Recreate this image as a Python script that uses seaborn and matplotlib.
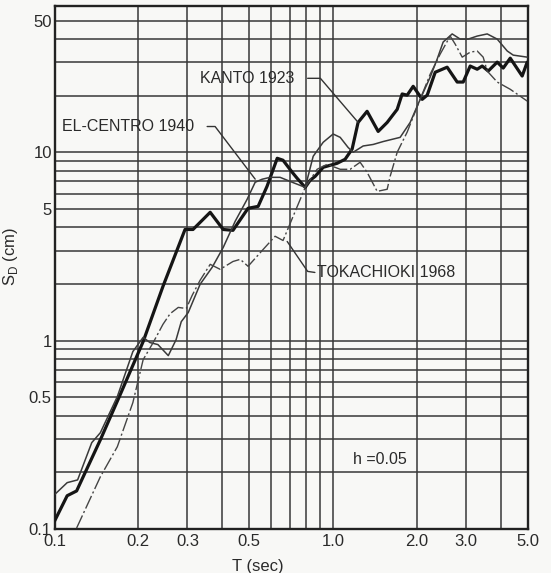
import numpy as np
import pandas as pd
import matplotlib
matplotlib.use("Agg")
import matplotlib.pyplot as plt
from matplotlib.ticker import NullFormatter
import seaborn as sns

# Displacement response spectra, h = 0.05
kanto_T = [0.100, 0.111, 0.120, 0.146, 0.172, 0.208, 0.245, 0.294, 0.314, 0.362,
           0.403, 0.437, 0.495, 0.538, 0.579, 0.630, 0.661, 0.713, 0.743, 0.794,
           0.827, 0.862, 0.921, 1.034, 1.104, 1.170, 1.229, 1.324, 1.451, 1.563,
           1.698, 1.769, 1.844, 1.938, 2.088, 2.176, 2.325, 2.566, 2.788, 2.930,
           3.104, 3.289, 3.428, 3.603, 3.881, 4.079, 4.322, 4.771, 4.973]
kanto_sd = [0.110, 0.150, 0.159, 0.297, 0.516, 0.988, 1.94, 3.89, 3.89, 4.80,
            3.89, 3.85, 5.04, 5.16, 6.59, 9.29, 9.07, 7.83, 7.27, 6.51,
            7.10, 7.45, 8.32, 8.74, 9.18, 10.4, 14.4, 16.5, 12.9, 14.4,
            16.9, 20.4, 20.1, 22.4, 19.1, 20.1, 26.6, 28.3, 23.6, 23.6,
            28.7, 27.6, 28.7, 27.0, 30.1, 28.0, 31.6, 25.4, 30.1]

elcentro_T = [0.100, 0.111, 0.121, 0.136, 0.146, 0.168, 0.191, 0.208, 0.220, 0.235,
              0.256, 0.273, 0.285, 0.302, 0.333, 0.368, 0.403, 0.445, 0.491, 0.525,
              0.556, 0.594, 0.645, 0.713, 0.794, 0.848, 0.921, 1.000, 1.060, 1.132,
              1.180, 1.282, 1.392, 1.512, 1.740, 1.890, 2.053, 2.231, 2.362, 2.483,
              2.675, 2.858, 3.053, 3.289, 3.573, 3.881, 4.216, 4.430, 4.973]
elcentro_sd = [0.152, 0.176, 0.182, 0.287, 0.324, 0.504, 0.874, 1.04, 0.976, 0.952,
               0.832, 1.01, 1.26, 1.41, 1.99, 2.45, 3.12, 4.30, 5.62, 6.93,
               7.19, 7.36, 7.36, 6.93, 6.51, 9.52, 11.3, 12.5, 12.0, 10.6,
               10.0, 10.8, 11.0, 11.4, 12.0, 14.4, 19.1, 25.1, 31.2, 38.5,
               42.5, 39.9, 39.9, 41.4, 42.5, 39.9, 34.5, 32.8, 32.0]

tokachi_T = [0.120, 0.132, 0.146, 0.168, 0.191, 0.208, 0.226, 0.245, 0.260, 0.278,
             0.297, 0.312, 0.333, 0.362, 0.393, 0.437, 0.464, 0.495, 0.561, 0.619,
             0.661, 0.794, 0.876, 0.952, 1.060, 1.151, 1.250, 1.324, 1.439, 1.563,
             1.602, 1.698, 1.844, 2.020, 2.231, 2.422, 2.631, 2.743, 2.906, 3.104,
             3.289, 3.456, 3.573, 3.881, 4.322, 4.973]
tokachi_sd = [0.101, 0.137, 0.189, 0.273, 0.468, 0.792, 0.976, 1.22, 1.39, 1.50,
              1.48, 1.74, 2.09, 2.54, 2.39, 2.63, 2.70, 2.48, 3.05, 3.58,
              3.40, 6.51, 8.12, 8.63, 8.12, 8.12, 8.85, 7.83, 6.20, 6.36,
              7.45, 10.0, 12.8, 18.0, 26.0, 33.2, 41.4, 37.5, 32.0, 34.0,
              34.5, 32.0, 27.0, 23.6, 21.6, 18.7]

x_major = [0.1, 0.2, 0.3, 0.5, 1.0, 2.0, 3.0, 5.0]
x_major_labels = ["0.1", "0.2", "0.3", "0.5", "1.0", "2.0", "3.0", "5.0"]
x_minor = [0.4, 0.6, 0.7, 0.8, 0.9, 4.0]
y_major = [0.1, 0.5, 1, 5, 10, 50]
y_major_labels = ["0.1", "0.5", "1", "5", "10", "50"]
y_minor = [0.2, 0.3, 0.4, 0.6, 0.7, 0.8, 0.9, 2, 3, 4, 6, 7, 8, 9, 20, 30, 40]

sns.set_style("white")
plt.rcParams["font.family"] = ["Liberation Sans", "DejaVu Sans"]
plt.rcParams["mathtext.fontset"] = "custom"
plt.rcParams["mathtext.rm"] = "Liberation Sans"

ink = "#2a2a2a"
paper = "#f8f8f6"

fig = plt.figure(figsize=(5.51, 5.73), dpi=100, facecolor=paper)
ax = fig.add_axes([0.099, 0.077, 0.859, 0.913])
ax.set_facecolor(paper)
ax.set_xscale("log")
ax.set_yscale("log")

df = pd.concat([
    pd.DataFrame({"T": kanto_T, "Sd": kanto_sd, "record": "KANTO 1923"}),
    pd.DataFrame({"T": elcentro_T, "Sd": elcentro_sd, "record": "EL-CENTRO 1940"}),
    pd.DataFrame({"T": tokachi_T, "Sd": tokachi_sd, "record": "TOKACHIOKI 1968"}),
])

line_styles = {
    "KANTO 1923": dict(color="#151515", linewidth=2.3, linestyle="-"),
    "EL-CENTRO 1940": dict(color="#3a3a3a", linewidth=1.1, linestyle="-"),
    "TOKACHIOKI 1968": dict(color="#444444", linewidth=1.0, linestyle=(0, (10, 2, 1.5, 2))),
}
for name, sub in df.groupby("record", sort=False):
    sns.lineplot(data=sub, x="T", y="Sd", ax=ax, estimator=None, legend=False,
                 zorder=3, **line_styles[name])

# grid like log paper
ax.set_xlim(0.1, 5.0)
ax.set_ylim(0.1, 60)
ax.set_xticks(x_major)
ax.set_xticklabels(x_major_labels)
ax.set_xticks(x_minor, minor=True)
ax.set_yticks(y_major)
ax.set_yticklabels(y_major_labels)
ax.set_yticks(y_minor, minor=True)
ax.xaxis.set_minor_formatter(NullFormatter())
ax.yaxis.set_minor_formatter(NullFormatter())
ax.grid(which="both", color="#383838", linewidth=1.1, zorder=1)
ax.tick_params(which="both", length=0, labelsize=12, labelcolor=ink)
ax.tick_params(axis="x", pad=4)
ax.tick_params(axis="y", pad=2)
for sp in ax.spines.values():
    sp.set_linewidth(1.7)
    sp.set_color("#222222")
    sp.set_visible(True)

ax.set_xlabel("T (sec)", fontsize=12, color=ink)
ax.xaxis.set_label_coords(0.43, -0.058)
ax.set_ylabel(r"S$_{\mathrm{D}}$ (cm)", fontsize=12, color=ink)
ax.yaxis.set_label_coords(-0.073, 0.52)

# labels with leader lines
lead = dict(color="#333333", linewidth=1.0, zorder=4)
ax.text(0.333, 24.7, "KANTO 1923", fontsize=11.5, color=ink, ha="left", va="center")
ax.plot([0.81, 0.90, 1.23], [24.7, 24.7, 14.4], **lead)
ax.text(0.106, 13.7, "EL-CENTRO 1940", fontsize=11.5, color=ink, ha="left", va="center")
ax.plot([0.353, 0.377, 0.525], [13.7, 13.7, 7.2], **lead)
ax.text(0.876, 2.30, "TOKACHIOKI 1968", fontsize=11.5, color=ink, ha="left", va="center")
ax.plot([0.86, 0.81, 0.684], [2.30, 2.33, 3.36], **lead)
ax.text(1.18, 0.233, "h =0.05", fontsize=11.5, color=ink, ha="left", va="center")

fig.savefig("out.png", dpi=100, facecolor=paper)
